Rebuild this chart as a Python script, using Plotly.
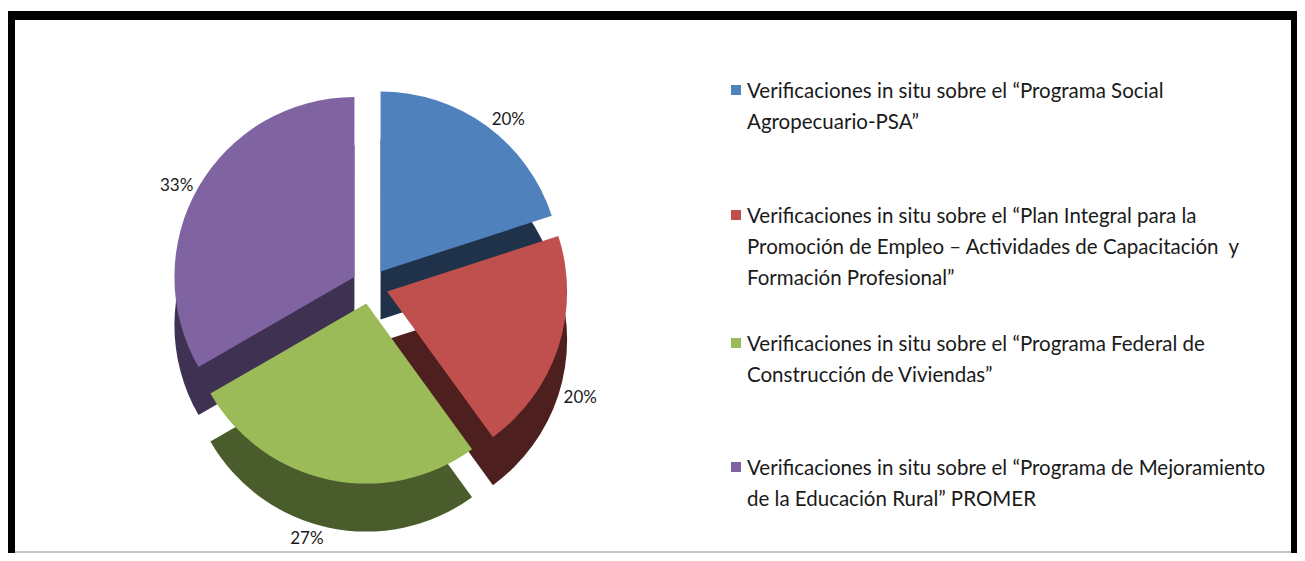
import plotly.graph_objects as go

# ---- data ----
label_lines = [
    ["Verificaciones in situ sobre el \u201cPrograma Social", "Agropecuario-PSA\u201d"],
    ["Verificaciones in situ sobre el \u201cPlan Integral para la",
     "Promoci\u00f3n de Empleo \u2013 Actividades de Capacitaci\u00f3n  y",
     "Formaci\u00f3n Profesional\u201d"],
    ["Verificaciones in situ sobre el \u201cPrograma Federal de", "Construcci\u00f3n de Viviendas\u201d"],
    ["Verificaciones in situ sobre el \u201cPrograma de Mejoramiento",
     "de la Educaci\u00f3n Rural\u201d PROMER"],
]
labels = [" ".join(l) for l in label_lines]
values = [3, 3, 4, 5]
colors = ["#4F81BD", "#C0504D", "#9BBB59", "#8064A2"]
side_colors = ["#1F3249", "#4D1F1F", "#4A5C2C", "#3F3152"]

# page is offset by the 8px body margin; figure sized so the page does not overflow
OFF = 8
W, H = 1305 - 2 * OFF, 561 - 2 * OFF
FONT = "Lato"

def px(x):
    return max(0.0, min(1.0, (x - OFF) / W))

def py(y):
    return max(0.0, min(1.0, 1 - (y - OFF) / H))

PULL = [0.1, 0.1, 0.1, 0.1]
DEPTH = 48
CX, CY, HALF = 370, 286, 198
top_dom_x = [px(CX - 300), px(CX + 300)]
top_dom_y = [py(CY + HALF), py(CY - HALF)]

PCT = "%{percent:.0%}"
fig = go.Figure()
# darker copy below -> pseudo 3D side (carries labels of front slices)
fig.add_trace(go.Pie(
    labels=labels, values=values, sort=False, direction="clockwise", rotation=0,
    pull=PULL, marker=dict(colors=side_colors, line=dict(width=0)),
    textposition="outside", texttemplate=["", PCT, PCT, ""],
    textfont=dict(family=FONT, size=17, color="#1a1a1a"),
    showlegend=False, hoverinfo="skip",
    domain=dict(x=top_dom_x, y=[py(CY + HALF + DEPTH), py(CY - HALF + DEPTH)]),
))
fig.add_trace(go.Pie(
    labels=labels,
    values=values,
    sort=False,
    direction="clockwise",
    rotation=0,
    pull=PULL,
    marker=dict(colors=colors, line=dict(width=0)),
    textposition="outside",
    texttemplate=[PCT, "", "", PCT],
    textfont=dict(family=FONT, size=17, color="#1a1a1a"),
    showlegend=False,
    hoverinfo="label+percent",
    domain=dict(x=top_dom_x, y=top_dom_y),
))

shapes = []
annotations = []
# legend (custom, with Excel-like spacing)
entry_tops = [90, 215, 343, 467]
line_gap = 31
for i, lines in enumerate(label_lines):
    y0 = entry_tops[i]
    shapes.append(dict(type="rect", xref="paper", yref="paper",
                       x0=px(731), x1=px(741), y0=py(y0 - 5), y1=py(y0 + 5),
                       fillcolor=colors[i], line=dict(width=0)))
    for j, t in enumerate(lines):
        annotations.append(dict(
            text=t, xref="paper", yref="paper", x=px(745), y=py(y0 + j * line_gap),
            xanchor="left", yanchor="middle", showarrow=False,
            font=dict(family=FONT, size=20.5, color="#1a1a1a")))

# frame (right border and bottom line sit on the figure edges)
shapes += [
    dict(type="rect", xref="paper", yref="paper", x0=0, x1=px(15), y0=0, y1=py(11),
         fillcolor="black", line=dict(width=0)),
    dict(type="rect", xref="paper", yref="paper", x0=0, x1=1, y0=py(20), y1=py(11),
         fillcolor="black", line=dict(width=0)),
    dict(type="rect", xref="paper", yref="paper", x0=1 - 6 / W, x1=1, y0=0, y1=py(11),
         fillcolor="black", line=dict(width=0)),
    dict(type="line", xref="paper", yref="paper", x0=px(15), x1=1 - 6 / W, y0=1 / H, y1=1 / H,
         line=dict(color="#b0b0b0", width=1.5)),
]

fig.update_layout(
    width=W, height=H,
    margin=dict(l=0, r=0, t=0, b=0, pad=0, autoexpand=False),
    paper_bgcolor="white",
    plot_bgcolor="white",
    shapes=shapes,
    annotations=annotations,
    font=dict(family=FONT),
)

fig.write_html("out.html")
